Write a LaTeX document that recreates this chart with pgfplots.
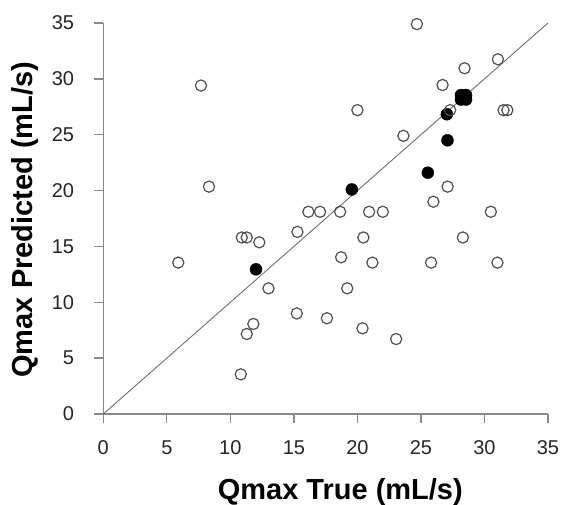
\documentclass[border=0pt]{standalone}
\usepackage{pgfplots}
\pgfplotsset{compat=1.18}
\usepackage{fontspec}
\setmainfont{Liberation Sans}
\definecolor{axgray}{HTML}{8A8A8A}
\definecolor{mkgray}{HTML}{505050}
\definecolor{lngray}{HTML}{707070}
\begin{document}
\begin{tikzpicture}
\path[use as bounding box] (-103.3pt,-91pt) rectangle (459.7pt,414pt);
\begin{axis}[
  at={(0,0)}, anchor=south west,
  scale only axis, width=444.7pt, height=391pt,
  xmin=0, xmax=35, ymin=0, ymax=35,
  xtick={0,5,...,35}, ytick={0,5,...,35},
  axis x line=bottom, axis y line=left,
  axis line style={-, color=axgray, line width=1.3pt},
  tick style={color=axgray, line width=1.3pt},
  tick align=outside, major tick length=9pt,
  /pgf/number format/assume math mode=true,
  ticklabel style={font=\fontsize{20}{24}\selectfont, text=black!85, inner sep=0pt},
  xticklabel style={anchor=center, yshift=-25pt},
  yticklabel style={anchor=east, xshift=-20pt},
  xlabel={\textbf{Qmax True (mL/s)}},
  ylabel={\textbf{Qmax Predicted (mL/s)}},
  label style={font=\fontsize{29}{33}\selectfont, inner sep=0pt},
  xlabel style={at={(axis description cs:0.533,-0.2)}, anchor=center},
  ylabel style={at={(axis description cs:-0.177,0.497)}, anchor=center},
  clip=false,
]
\addplot[lngray, line width=0.9pt] coordinates {(0,0) (35,35)};
\addplot[only marks, mark=*, mark size=6pt, mark options={fill=black, draw=black}] coordinates {
(12.02,12.95) (19.56,20.1) (25.54,21.6) (27.09,24.5) (27.04,26.83)
(28.15,28.15) (28.55,28.15) (28.15,28.55) (28.55,28.55)
};
\addplot[only marks, mark=o, mark size=5.6pt, mark options={draw=mkgray, line width=1.2pt}] table {
x y
7.69 29.4
8.32 20.35
10.9 15.8
11.29 15.8
12.28 15.37
15.28 16.3
16.14 18.1
17.06 18.1
24.68 34.9
31.06 31.75
28.43 30.95
26.7 29.45
27.3 27.2
31.5 27.2
31.8 27.2
20.0 27.2
23.62 24.9
27.1 20.35
25.98 19.0
18.64 18.1
20.92 18.1
22.0 18.1
30.5 18.1
20.47 15.8
28.3 15.8
5.9 13.55
13.0 11.25
15.23 9.0
17.6 8.57
11.81 8.06
11.29 7.16
10.82 3.55
18.72 14.03
21.18 13.55
25.8 13.55
31.02 13.55
19.2 11.25
20.4 7.67
23.05 6.71
};
\end{axis}
\end{tikzpicture}
\end{document}
